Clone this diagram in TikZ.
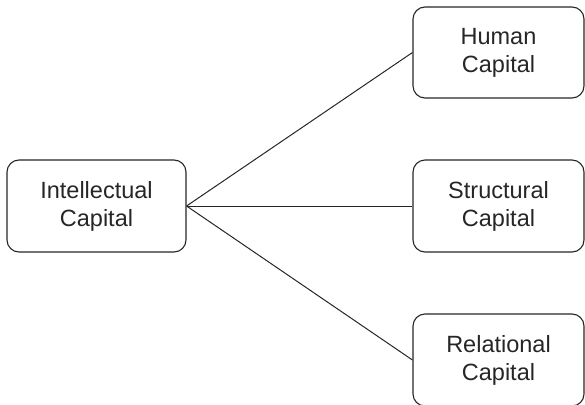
\documentclass[tikz,border=0pt]{standalone}
\usepackage{fontspec}
\setmainfont{Liberation Sans}
\definecolor{ink}{HTML}{262626}
\begin{document}
\begin{tikzpicture}[x=1pt,y=-1pt,
  capbox/.style={draw=ink,line width=1.1pt,rounded corners=12pt,align=center,
    font=\fontsize{23.5}{28}\selectfont,text=ink,inner sep=0pt},
  link/.style={draw=ink,line width=1pt}]
\useasboundingbox (0,0) rectangle (585,404);
\node[capbox,minimum width=179pt,minimum height=92pt] (ic) at (96.5,206) {Intellectual\\Capital};
\node[capbox,minimum width=171pt,minimum height=91pt] (hc) at (498.5,52.5) {Human\\Capital};
\node[capbox,minimum width=171pt,minimum height=92pt] (sc) at (498.5,206) {Structural\\Capital};
\node[capbox,minimum width=171pt,minimum height=92pt] (rc) at (498.5,360) {Relational\\Capital};
\draw[link] (ic.east) -- (hc.west);
\draw[link] (ic.east) -- (sc.west);
\draw[link] (ic.east) -- (rc.west);
\end{tikzpicture}
\end{document}
